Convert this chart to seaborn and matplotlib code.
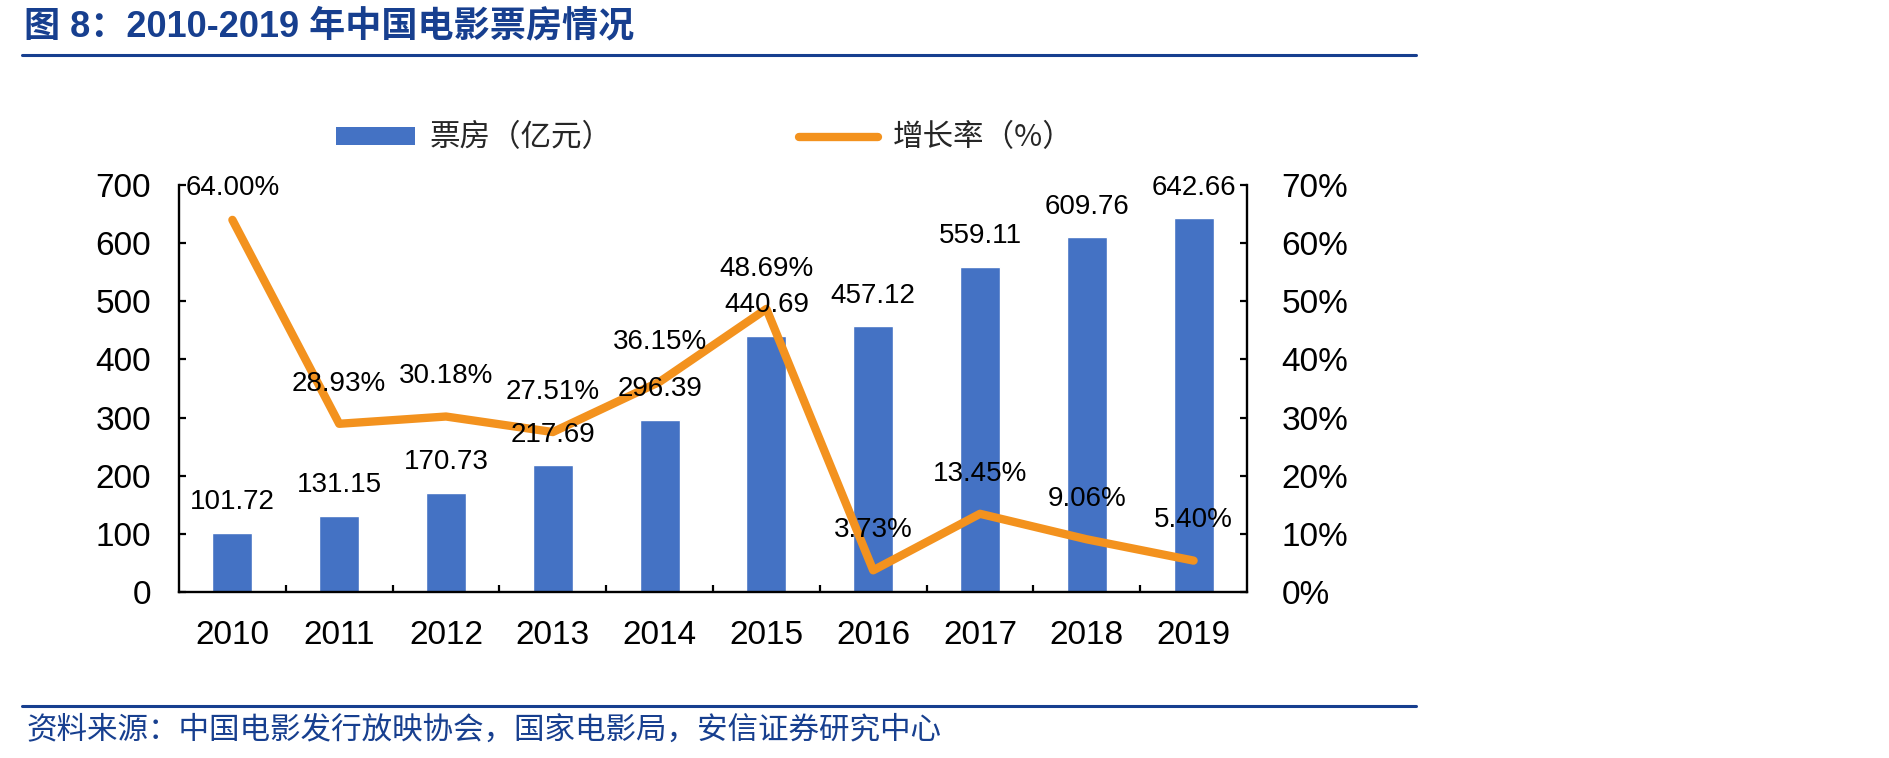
import matplotlib
matplotlib.use("Agg")
import matplotlib.pyplot as plt
from matplotlib.lines import Line2D
from matplotlib.patches import Patch
from matplotlib.ticker import FuncFormatter, FixedLocator
import seaborn as sns
import numpy as np
import pandas as pd

# ---- data ----
years = ['2010', '2011', '2012', '2013', '2014', '2015', '2016', '2017', '2018', '2019']
box_office = [101.72, 131.15, 170.73, 217.69, 296.39, 440.69, 457.12, 559.11, 609.76, 642.66]
growth = [64.00, 28.93, 30.18, 27.51, 36.15, 48.69, 3.73, 13.45, 9.06, 5.40]
left_ticks = [0, 100, 200, 300, 400, 500, 600, 700]
right_ticks = [0, 10, 20, 30, 40, 50, 60, 70]
title = '图 8：2010-2019 年中国电影票房情况'
source = '资料来源：中国电影发行放映协会，国家电影局，安信证券研究中心'
legend_labels = ['票房（亿元）', '增长率（%）']

# ---- style ----
sns.set_theme(style='white')
plt.rcParams['font.family'] = ['Liberation Sans', 'Noto Sans CJK SC']
BAR = '#4472C4'
ORANGE = '#F3921E'
BLUE = '#173F8F'

W, H = 1889, 758
AX_TOP, AX_BOTTOM = 185, 592
fig = plt.figure(figsize=(W / 100, H / 100), dpi=100)
ax = fig.add_axes([179 / W, 1 - AX_BOTTOM / H, (1247 - 179) / W, (AX_BOTTOM - AX_TOP) / H])

df = pd.DataFrame({'year': years, 'box': box_office, 'growth': growth})
sns.barplot(data=df, x='year', y='box', color=BAR, width=0.375, saturation=1, ax=ax)
ax.set_xlim(-0.5, len(years) - 0.5)
ax.set_ylim(0, 700)
ax.set_yticks(left_ticks)
ax.set_xlabel('')
ax.set_ylabel('')

ax2 = ax.twinx()
sns.lineplot(x=np.arange(len(years)), y=growth, color=ORANGE, linewidth=6, ax=ax2,
             solid_joinstyle='round', solid_capstyle='round')
ax2.set_ylim(0, 70)
ax2.set_yticks(right_ticks)
ax2.yaxis.set_major_formatter(FuncFormatter(lambda v, p: f'{v:.0f}%'))
ax2.set_ylabel('')

# spines / ticks
for a in (ax, ax2):
    for s in a.spines.values():
        s.set_linewidth(1.7)
        s.set_color('black')
    a.spines['top'].set_visible(False)
ax.spines['right'].set_visible(False)
ax2.spines['left'].set_visible(False)
ax2.spines['bottom'].set_visible(False)

ax.tick_params(axis='y', direction='in', length=5, width=1.6, pad=20, labelsize=24,
               colors='black', left=True)
ax2.tick_params(axis='y', direction='in', length=5, width=1.6, pad=25, labelsize=24,
                colors='black', right=True)
ax.tick_params(axis='x', which='major', length=0, pad=20, labelsize=24, colors='black')
ax.xaxis.set_minor_locator(FixedLocator(np.arange(0.5, len(years) - 0.5, 1.0)))
ax.tick_params(axis='x', which='minor', direction='in', length=5, width=1.6,
               bottom=True, colors='black')
for lab in ax2.get_yticklabels():
    lab.set_horizontalalignment('left')

# data labels (drawn on the top axes so they sit above the line)
for i, v in enumerate(box_office):
    ax2.annotate(f'{v:.2f}', (i, v), xycoords=ax.transData, xytext=(0, 22),
                 textcoords='offset points', ha='center', va='center',
                 fontsize=20, color='black', zorder=5)
axis_px = AX_BOTTOM - AX_TOP
for i, g in enumerate(growth):
    room_pt = (70 - g) / 70 * axis_px * 0.72 - 2
    off = min(29, room_pt)
    ax2.annotate(f'{g:.2f}%', (i, g), xytext=(0, off), textcoords='offset points',
                 ha='center', va='center', fontsize=20, color='black', zorder=5)

# legend
handles = [Patch(facecolor=BAR, edgecolor='none'),
           Line2D([], [], color=ORANGE, linewidth=6, solid_capstyle='round')]
fig.legend(handles, legend_labels, loc='center left',
           bbox_to_anchor=(336 / W, 1 - 138 / H), ncol=2, frameon=False,
           prop={'family': ['Noto Sans CJK SC'], 'size': 22},
           handlelength=2.6, handleheight=0.52, handletextpad=0.46,
           columnspacing=6.1, borderpad=0, borderaxespad=0)

# title and source
fig.text(24 / W, 1 - 27 / H, title, fontsize=26, fontweight='bold', color=BLUE,
         ha='left', va='center', family=['Liberation Sans', 'Noto Sans CJK SC'])
fig.add_artist(Line2D([22 / W, 1416 / W], [1 - 55 / H, 1 - 55 / H],
                      transform=fig.transFigure, color=BLUE, linewidth=2.2))
fig.add_artist(Line2D([22 / W, 1416 / W], [1 - 706 / H, 1 - 706 / H],
                      transform=fig.transFigure, color=BLUE, linewidth=2.2))
fig.text(26 / W, 1 - 730 / H, source, fontsize=22, color=BLUE,
         ha='left', va='center', family=['Noto Sans CJK SC'])

fig.savefig('out.png', dpi=100)
